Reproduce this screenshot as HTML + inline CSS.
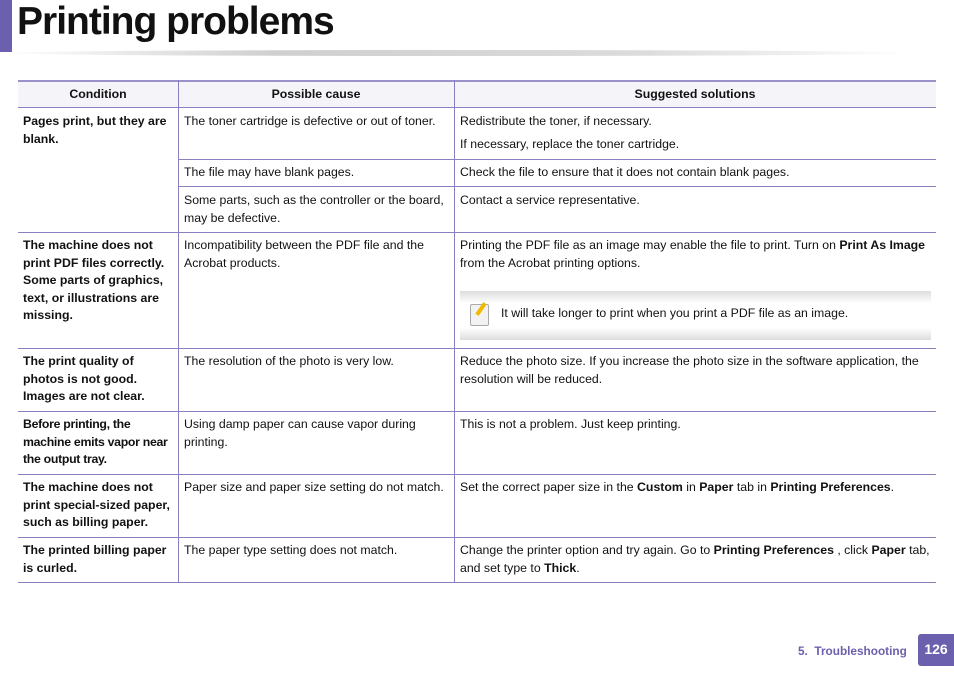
<!DOCTYPE html>
<html><head><meta charset="utf-8"><style>
body{margin:0;width:954px;height:675px;background:#fff;position:relative;overflow:hidden;font-family:"Liberation Sans",sans-serif;color:#111}
.a{position:absolute}
.t{position:absolute;font-size:12.3px;line-height:17.5px;margin-top:1px}
.b{font-weight:bold}
.h{position:absolute;height:1px;background:#8a80c0}
.v{position:absolute;width:1px;background:#8a80c0}
</style></head><body>
<div class="a" style="left:0;top:0;width:12px;height:52px;background:#6b60ad"></div>
<div class="a" style="left:17px;top:-2px;font-size:39px;font-weight:bold;letter-spacing:-1px;line-height:48px">Printing problems</div>
<div class="a" style="left:0;top:50px;width:915px;height:6px;background:linear-gradient(90deg,rgba(255,255,255,0),#bbb 30%,#ccc 70%,rgba(255,255,255,0));border-radius:50%;opacity:.7"></div>

<div>
<div class="a" style="left:18px;top:80px;width:918px;height:27px;background:#f4f4f9;border-top:2px solid #9a92c8;box-sizing:border-box"></div>
<div class="t b" style="left:18px;width:160px;top:85px;text-align:center">Condition</div>
<div class="t b" style="left:178px;width:276px;top:85px;text-align:center">Possible cause</div>
<div class="t b" style="left:454px;width:482px;top:85px;text-align:center">Suggested solutions</div>

<div class="h" style="left:18px;width:918px;top:107px"></div>
<div class="h" style="left:178px;width:758px;top:159px"></div>
<div class="h" style="left:178px;width:758px;top:186px"></div>
<div class="h" style="left:18px;width:918px;top:232px"></div>
<div class="h" style="left:18px;width:918px;top:348px"></div>
<div class="h" style="left:18px;width:918px;top:411px"></div>
<div class="h" style="left:18px;width:918px;top:474px"></div>
<div class="h" style="left:18px;width:918px;top:537px"></div>
<div class="h" style="left:18px;width:918px;top:582px"></div>
<div class="v" style="left:178px;top:80px;height:502px"></div>
<div class="v" style="left:454px;top:80px;height:502px"></div>

<div class="t b" style="left:23px;top:112px;width:152px">Pages print, but they are blank.</div>
<div class="t" style="left:184px;top:112px">The toner cartridge is defective or out of toner.</div>
<div class="t" style="left:460px;top:112px">Redistribute the toner, if necessary.</div>
<div class="t" style="left:460px;top:135px">If necessary, replace the toner cartridge.</div>
<div class="t" style="left:184px;top:163px">The file may have blank pages.</div>
<div class="t" style="left:460px;top:163px">Check the file to ensure that it does not contain blank pages.</div>
<div class="t" style="left:184px;top:191px;width:265px">Some parts, such as the controller or the board, may be defective.</div>
<div class="t" style="left:460px;top:191px">Contact a service representative.</div>

<div class="t b" style="left:23px;top:236px;width:150px">The machine does not print PDF files correctly. Some parts of graphics, text, or illustrations are missing.</div>
<div class="t" style="left:184px;top:236px;width:260px">Incompatibility between the PDF file and the Acrobat products.</div>
<div class="t" style="left:460px;top:236px;width:472px">Printing the PDF file as an image may enable the file to print. Turn on <b>Print As Image</b> from the Acrobat printing options.</div>
<div class="a" style="left:460px;top:291px;width:471px;height:49px;background:linear-gradient(#ddd,#fff 25%,#fff 75%,#ddd)"></div>
<div class="a" style="left:470px;top:304px;width:17px;height:20px;background:#f2f2f2;border:1px solid #aaa;border-radius:2px"><div style="position:absolute;left:8px;top:-3px;width:4px;height:14px;background:#f0b800;transform:rotate(35deg)"></div></div>
<div class="t" style="left:501px;top:304px">It will take longer to print when you print a PDF file as an image.</div>

<div class="t b" style="left:23px;top:352px;width:140px">The print quality of photos is not good. Images are not clear.</div>
<div class="t" style="left:184px;top:352px">The resolution of the photo is very low.</div>
<div class="t" style="left:460px;top:352px;width:472px">Reduce the photo size. If you increase the photo size in the software application, the resolution will be reduced.</div>

<div class="t b" style="left:23px;top:415px;width:152px;letter-spacing:-.3px">Before printing, the machine emits vapor near the output tray.</div>
<div class="t" style="left:184px;top:415px;width:262px">Using damp paper can cause vapor during printing.</div>
<div class="t" style="left:460px;top:415px">This is not a problem. Just keep printing.</div>

<div class="t b" style="left:23px;top:478px;width:152px">The machine does not print special-sized paper, such as billing paper.</div>
<div class="t" style="left:184px;top:478px">Paper size and paper size setting do not match.</div>
<div class="t" style="left:460px;top:478px">Set the correct paper size in the <b>Custom</b> in <b>Paper</b> tab in <b>Printing Preferences</b>.</div>

<div class="t b" style="left:23px;top:541px;width:152px">The printed billing paper is curled.</div>
<div class="t" style="left:184px;top:541px">The paper type setting does not match.</div>
<div class="t" style="left:460px;top:541px;width:472px">Change the printer option and try again. Go to <b>Printing Preferences</b> , click <b>Paper</b> tab, and set type to <b>Thick</b>.</div>
</div>

<div class="a" style="left:798px;top:644px;font-size:11.8px;font-weight:bold;color:#6b60ad">5.&nbsp; Troubleshooting</div>
<div class="a" style="left:918px;top:634px;width:36px;height:32px;background:#6b60ad;border-radius:3px 0 0 3px;color:#fff;font-size:14px;font-weight:bold;text-align:center;line-height:30px">126</div>
</body></html>
